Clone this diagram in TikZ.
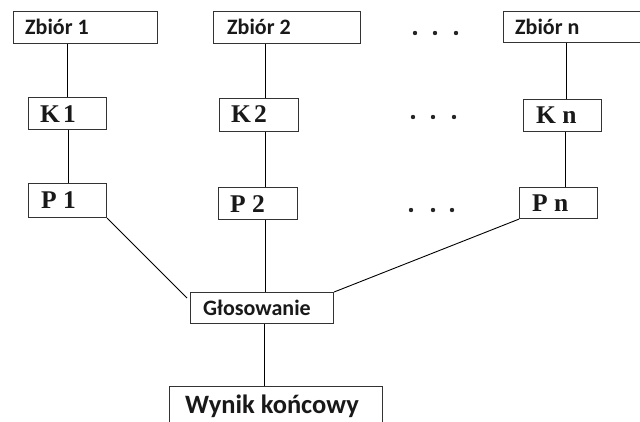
\documentclass[tikz,border=0pt]{standalone}
\usepackage{fontspec}
\setmainfont{Carlito}
\newfontfamily\serifb{Liberation Serif}
\tikzset{
  box/.style={draw=black!80, line width=1.1pt, fill=white, inner sep=0pt, anchor=north west},
  conn/.style={draw=black, line width=0.9pt},
  lbl/.style={anchor=base west, inner sep=0pt, text=black!90},
  zl/.style={lbl, font=\fontsize{22}{22}\selectfont\bfseries},
  kl/.style={lbl, font=\fontsize{25.5}{25.5}\serifb\bfseries},
  dotm/.style={fill=black!85, circle, inner sep=0pt, minimum size=4.4pt},
}
\begin{document}
\begin{tikzpicture}[x=1pt,y=-1pt]
\useasboundingbox (0,0) rectangle (640,421);
\clip (0,0) rectangle (640,421);
\fill[white] (0,0) rectangle (640,421);
% column coordinates
\coordinate (c1) at (67,0);
\coordinate (c2) at (265,0);
\coordinate (c3) at (566,0);
\coordinate (c4) at (264,0);
% boxes
\node[box, minimum width=144, minimum height=32] (z1) at (13,11) {};
\node[box, minimum width=147, minimum height=32] (z2) at (213,11) {};
\node[box, minimum width=145, minimum height=31] (zn) at (503,11) {};
\node[box, minimum width=78, minimum height=32] (k1) at (28,97) {};
\node[box, minimum width=79, minimum height=33] (k2) at (219,98) {};
\node[box, minimum width=78, minimum height=32] (kn) at (523,99) {};
\node[box, minimum width=78, minimum height=34] (p1) at (28,183) {};
\node[box, minimum width=79, minimum height=32] (p2) at (218,187) {};
\node[box, minimum width=78, minimum height=31] (pn) at (519,187) {};
\node[box, minimum width=143, minimum height=31] (g) at (190,292) {};
\node[box, minimum width=213, minimum height=60] (w) at (169,386) {};
% labels
\node[zl] (tz1) at (25,34) {Zbiór 1};
\node[zl] (tz2) at (227,34) {Zbiór 2};
\node[zl] (tzn) at (515,34) {Zbiór n};
\node[kl] (tk1) at (40,122) {K\kern3pt1};
\node[kl] (tk2) at (231,122) {K\kern3pt2};
\node[kl] (tkn) at (536,123) {K n};
\node[kl] (tp1) at (41,208) {P 1};
\node[kl] (tp2) at (230,212) {P 2};
\node[kl] (tpn) at (532,211) {P n};
\node[zl] (tg) at (203,315) {Głosowanie};
\node[lbl, font=\fontsize{26.5}{26.5}\selectfont\bfseries] (tw) at (185,413) {Wynik końcowy};
% connectors
\draw[conn] (z1.south -| c1) -- (k1.north -| c1);
\draw[conn] ([xshift=1pt]k1.south -| c1) -- ([xshift=1pt]p1.north -| c1);
\draw[conn] (z2.south -| c2) -- (k2.north -| c2);
\draw[conn] (k2.south -| c2) -- (p2.north -| c2);
\draw[conn] (p2.south -| c2) -- (g.north -| c2);
\draw[conn] (zn.south -| c3) -- (kn.north -| c3);
\draw[conn] ([xshift=-1pt]kn.south -| c3) -- ([xshift=-1pt]pn.north -| c3);
\draw[conn] (p1.south east) -- ([xshift=-3pt,yshift=-6pt]g.north west);
\draw[conn] (pn.south west) -- (g.north east);
\draw[conn] (g.south -| c4) -- (w.north -| c4);
% dots
\foreach \x/\n in {415/a,435/b,456/c}{\node[dotm] (d1\n) at (\x,33) {};}
\foreach \x/\n in {413/a,433/b,454/c}{\node[dotm] (d2\n) at (\x,117) {};}
\foreach \x/\n in {411/a,433/b,452/c}{\node[dotm] (d3\n) at (\x,210) {};}
\end{tikzpicture}
\end{document}
